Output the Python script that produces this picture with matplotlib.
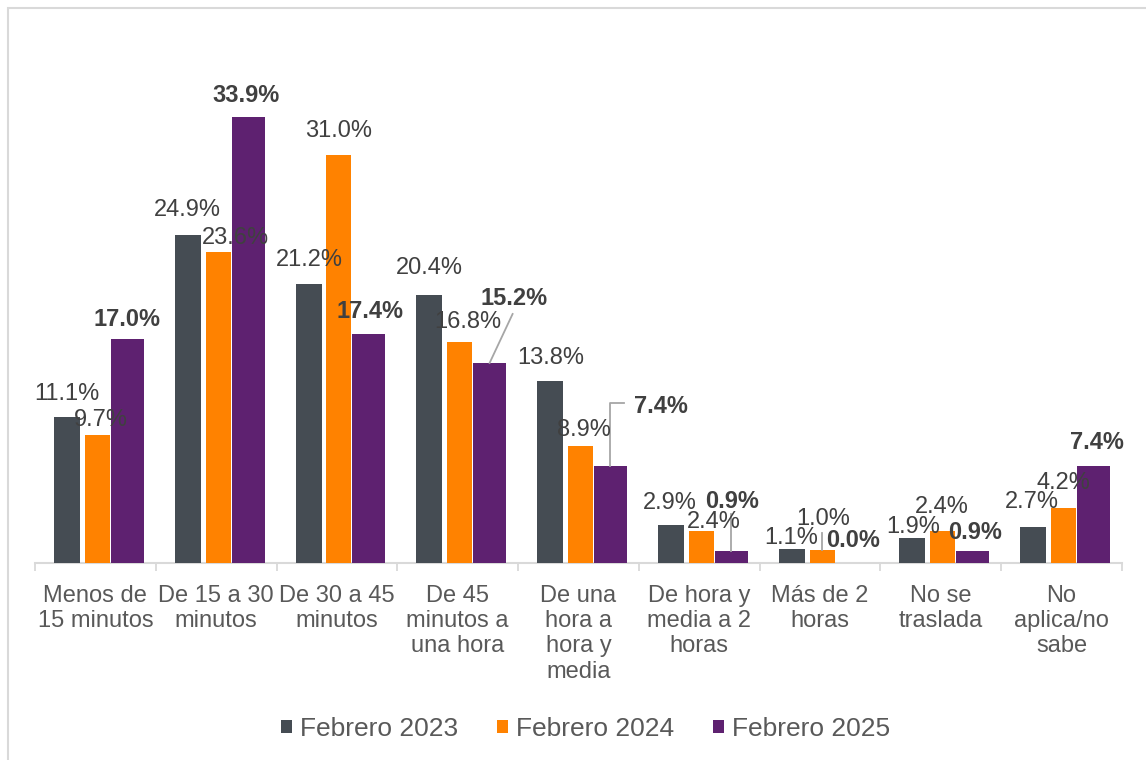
import matplotlib
matplotlib.use("Agg")
import matplotlib.pyplot as plt
from matplotlib.patches import Rectangle
import numpy as np

plt.rcParams['font.family'] = ['Liberation Sans', 'DejaVu Sans']

categorias = ["Menos de\n15 minutos", "De 15 a 30\nminutos", "De 30 a 45\nminutos",
              "De 45\nminutos a\nuna hora", "De una\nhora a\nhora y\nmedia",
              "De hora y\nmedia a 2\nhoras", "Más de 2\nhoras", "No se\ntraslada",
              "No\naplica/no\nsabe"]
series = ["Febrero 2023", "Febrero 2024", "Febrero 2025"]
feb_2023 = [11.1, 24.9, 21.2, 20.4, 13.8, 2.9, 1.1, 1.9, 2.7]
feb_2024 = [9.7, 23.6, 31.0, 16.8, 8.9, 2.4, 1.0, 2.4, 4.2]
feb_2025 = [17.0, 33.9, 17.4, 15.2, 7.4, 0.9, 0.0, 0.9, 7.4]

colores = ["#454c53", "#ff8200", "#5e2170"]
desplaz = [-0.235, 0.017, 0.264]
anchos = [0.215, 0.207, 0.273]

# posiciones de las etiquetas (pixeles respecto al tope de la barra)
off_2023 = [(0, 17), (0, 19), (1, 18), (0, 21), (1, 17), (-1, 16), (0, 5), (1, 5), (-1, 19)]
off_2024 = [(3, 9), (17, 8), (0, 18), (8, 14), (3, 10), (12, 3), (1, 25), (-1, 18), (0, 19)]
off_2025 = [(0, 13), (-2, 15), (1, 16), (24, 58), (51, 53), (1, 43), (1, 16), (2, 12), (3, 17)]

fig = plt.figure(figsize=(11.46, 7.6), dpi=100)
ax = fig.add_axes([35 / 1146, 197 / 760, 1087 / 1146, 526.4 / 760])
ax.set_xlim(-0.5, len(categorias) - 0.5)
ax.set_ylim(0, 40)

x = np.arange(len(categorias))
datos = [feb_2023, feb_2024, feb_2025]
offs = [off_2023, off_2024, off_2025]
for i in range(3):
    ax.bar(x + desplaz[i], datos[i], width=anchos[i], color=colores[i], label=series[i], zorder=3)
    for j in range(len(x)):
        negrita = "bold" if i == 2 else "normal"
        ax.annotate(f"{datos[i][j]:.1f}%", (x[j] + desplaz[i], datos[i][j]),
                    xytext=offs[i][j], textcoords="offset pixels",
                    ha="center", va="baseline", fontsize=17, color="#404040",
                    fontweight=negrita, zorder=5)

# lineas guia
gris = "#a6a6a6"
def guia(xi, yi, puntos):
    px, py = ax.transData.transform((xi, yi))
    xs = [px] + [px + p[0] for p in puntos]
    ys = [py] + [py + p[1] for p in puntos]
    inv = ax.transData.inverted()
    pts = inv.transform(np.column_stack([xs, ys]))
    ax.plot(pts[:, 0], pts[:, 1], color=gris, lw=1.3, zorder=4, clip_on=False)

guia(3 + desplaz[2], feb_2025[3], [(23, 49)])
guia(4 + desplaz[2], feb_2025[4], [(0, 63), (14, 63)])
guia(5 + desplaz[2], feb_2025[5], [(0, 37)])
guia(6 + desplaz[1], feb_2024[6], [(0, 17)])

ax.set_xlim(-0.5, len(categorias) - 0.5)
ax.set_ylim(0, 40)
ax.set_yticks([])
ax.set_xticks(x)
ax.set_xticklabels(categorias, fontsize=17, color="#595959", linespacing=1.2)
ax.set_xticks(np.arange(len(categorias) + 1) - 0.5, minor=True)
ax.tick_params(axis="x", which="major", length=0, pad=15.5)
ax.tick_params(axis="x", which="minor", length=6, width=1.3, color="#d9d9d9", direction="out")
for s in ["top", "right", "left"]:
    ax.spines[s].set_visible(False)
ax.spines["bottom"].set_color("#d9d9d9")
ax.spines["bottom"].set_linewidth(1.5)

leg = fig.legend(loc="center", bbox_to_anchor=(0.511, 0.041), ncol=3, frameon=False,
                 fontsize=19, handlelength=0.4, handleheight=0.4, handletextpad=0.3,
                 columnspacing=1.5)
for t in leg.get_texts():
    t.set_color("#595959")

fig.patches.append(Rectangle((8 / 1146, -0.1), 1.2, 1.1 - 8 / 760, transform=fig.transFigure,
                             fill=False, edgecolor="#d9d9d9", lw=1.5))

fig.savefig("out.png", dpi=100)
